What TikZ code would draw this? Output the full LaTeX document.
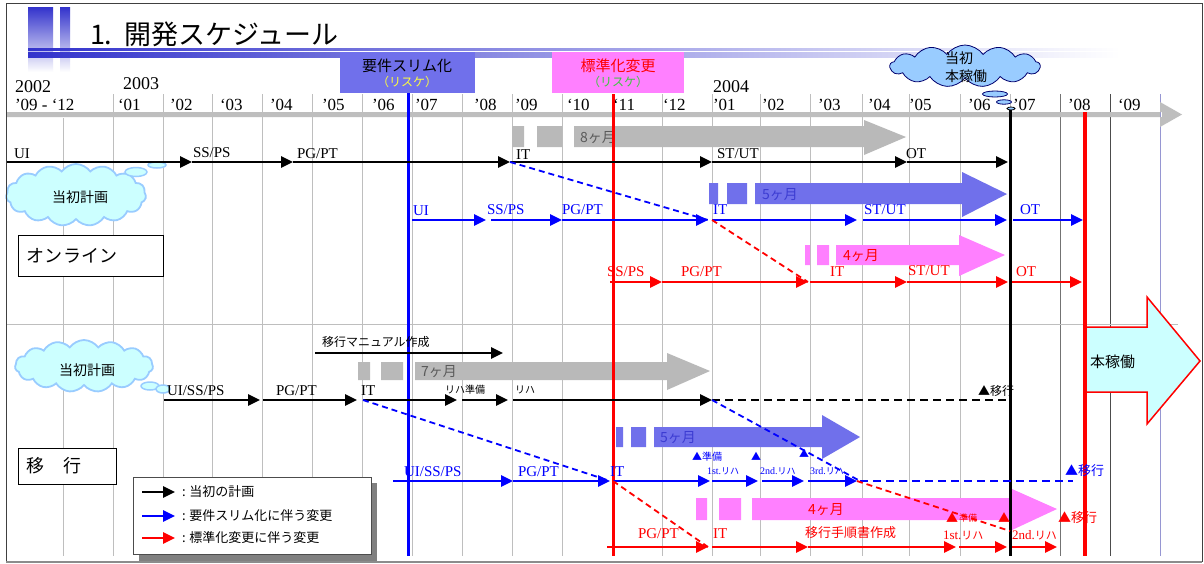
\documentclass[tikz,border=0pt]{standalone}
\usepackage{fontspec}
\setmainfont{Liberation Serif}
\newfontfamily\jp{Noto Sans CJK JP}
\usetikzlibrary{arrows.meta,shapes.symbols}
\definecolor{gridc}{RGB}{190,190,190}
\definecolor{lastgrid}{RGB}{150,150,210}
\definecolor{barc}{RGB}{190,190,190}
\definecolor{titleblue}{RGB}{51,51,204}
\definecolor{slimblue}{RGB}{112,112,235}
\definecolor{stdpink}{RGB}{255,128,255}
\definecolor{shadegray}{RGB}{185,185,185}
\definecolor{cloudfill}{RGB}{204,255,255}
\definecolor{cloudline}{RGB}{153,204,255}
\definecolor{skyfill}{RGB}{153,204,255}
\definecolor{navy}{RGB}{0,0,110}
\definecolor{pblue}{RGB}{0,0,255}
\definecolor{pred}{RGB}{255,0,0}
\definecolor{pgreen}{RGB}{60,200,60}
\definecolor{pyellow}{RGB}{255,255,60}
\definecolor{graytxt}{RGB}{90,90,90}
\definecolor{bluetxt}{RGB}{60,60,210}
\begin{document}
\begin{tikzpicture}[x=1pt,y=-1pt,
  every node/.style={inner sep=0pt,outer sep=0pt},
  arr/.style={line width=2.6pt,-{Triangle[length=12pt,width=11pt]}},
  blk/.style={arr,black},
  blu/.style={arr,pblue},
  rdd/.style={arr,pred},
  dsh/.style={line width=1.8pt,dash pattern=on 6pt off 4pt},
  thickdsh/.style={line width=2.6pt,dash pattern=on 8pt off 5pt},
  lab/.style={anchor=base west,font=\fontsize{15}{15}\selectfont},
  smlab/.style={anchor=base west,font=\fontsize{10}{10}\selectfont},
  mon/.style={anchor=base west,font=\fontsize{17}{17}\selectfont},
  yr/.style={anchor=base west,font=\fontsize{18}{18}\selectfont},
  jl/.style={anchor=base west,font=\jp\fontsize{#1}{#1}\selectfont},
  jl/.default=12,
  lblbox/.style={draw=black,line width=0.8pt,fill=white},
  cloudA/.style={cloud,cloud puffs=15,cloud puff arc=110,cloud ignores aspect,draw=cloudline,line width=1.8pt,fill=cloudfill},
  bubble/.style={draw=cloudline,line width=1.5pt,fill=cloudfill},
]
\useasboundingbox (0,0) rectangle (1204,563);
\fill[white] (0,0) rectangle (1204,563);

% ---------- title ----------
\shade[top color=titleblue,bottom color=white] (28,7) rectangle (53,72);
\shade[top color=titleblue,bottom color=white] (60,7) rectangle (70,72);
\shade[left color=titleblue,middle color=titleblue!75!white,right color=white] (28,48) rectangle (1120,50);
\shade[left color=titleblue,middle color=titleblue!75!white,right color=white] (28,52) rectangle (1120,57);
\node[anchor=west,font=\jp\fontsize{27}{27}\selectfont] (title) at (90,34) {1.\hspace{12pt}開発スケジュール};

% ---------- grid ----------
\foreach \gx in {113,163,212,262,312,362,412,462,512,562,612,662,712,760,810,862,909,960,1010}
  \draw[gridc,line width=1pt] (\gx,94) -- (\gx,556);
\draw[gridc,line width=1pt] (63,118) -- (63,556);
\draw[black!70,line width=1pt] (1110,94) -- (1110,556);
\draw[black!55,line width=1pt] (1060,94) -- (1060,556);
\draw[lastgrid,line width=1pt] (1160,94) -- (1160,556);
\draw[gridc,line width=1pt] (6,324) -- (1178,324);

% header
\node[yr] (y2002) at (15,92) {2002};
\node[yr] (y2003) at (123,89) {2003};
\node[yr] (y2004) at (713,92) {2004};
\foreach \mx/\mt in {15/{'09 - `12},118/{`01},170/{'02},220/{`03},270/{'04},322/{'05},372/{'06},415/{'07},474/{'08},515/{'09},567/{`10},613/{`11},663/{`12},713/{'01},762/{'02},818/{'03},868/{'04},909/{'05},968/{'06},1013/{'07},1068/{'08},1118/{`09}}
  \node[mon] (m\mx) at (\mx,110) {\mt};
\fill[barc] (6,112) rectangle (1162,117) (1160,102) -- (1182,114.5) -- (1160,127) -- cycle;

% ---------- shaded duration arrows ----------
\fill[shadegray] (512,126) rectangle (524,147) (537,126) rectangle (562,147)
  (574,126) -- (864,126) -- (864,120) -- (906,137) -- (864,155) -- (864,147) -- (574,147) -- cycle;
\node[jl=14,text=graytxt] (d8) at (580,142) {8ヶ月};
\fill[slimblue] (709,183) rectangle (718,204) (727,183) rectangle (747,204)
  (755,183) -- (962,183) -- (962,172) -- (1007,194) -- (962,217) -- (962,204) -- (755,204) -- cycle;
\node[jl=14,text=bluetxt] (d5a) at (762,199) {5ヶ月};
\fill[stdpink] (805,245) rectangle (810,265) (817,245) rectangle (829,265)
  (836,245) -- (959,245) -- (959,235) -- (1005,255) -- (959,276) -- (959,265) -- (836,265) -- cycle;
\node[jl=14,text=pred] (d4a) at (843,260) {4ヶ月};
\fill[shadegray] (358,362) rectangle (370,380) (381,362) rectangle (403,380)
  (415,362) -- (667,362) -- (667,353) -- (710,371) -- (667,390) -- (667,380) -- (415,380) -- cycle;
\node[jl=14,text=graytxt] (d7) at (421,376) {7ヶ月};
\fill[slimblue] (616,427) rectangle (623,447) (631,427) rectangle (646,447)
  (654,427) -- (822,427) -- (822,415) -- (860,437) -- (822,459) -- (822,447) -- (654,447) -- cycle;
\node[jl=14,text=bluetxt] (d5b) at (660,442) {5ヶ月};
\fill[stdpink] (696,498) rectangle (707,520) (719,498) rectangle (741,520)
  (752,498) -- (1012,498) -- (1012,489) -- (1057,509) -- (1012,530) -- (1012,520) -- (752,520) -- cycle;
\node[jl=14,text=pred] (d4b) at (808,514) {4ヶ月};

% ---------- big arrow ----------
\draw[pred,line width=1.5pt,fill=cloudfill] (1085,327) -- (1147,327) -- (1147,297) -- (1200,361) -- (1147,424) -- (1147,392) -- (1085,392) -- cycle;
\node[jl=15] (honka) at (1090,367) {本稼働};

% ---------- top boxes ----------
\fill[slimblue] (340,52) rectangle (475,93);
\node[font=\jp\fontsize{15}{15}\selectfont] (slim) at (407,66) {要件スリム化};
\node[font=\jp\fontsize{12}{12}\selectfont,text=pyellow] (slimr) at (407,82) {（リスケ）};
\fill[stdpink] (552,52) rectangle (684,93);
\node[font=\jp\fontsize{15}{15}\selectfont,text=pred] (std) at (618,66) {標準化変更};
\node[font=\jp\fontsize{12}{12}\selectfont,text=pgreen] (stdr) at (618,82) {（リスケ）};

% ---------- key vertical lines ----------
\draw[pblue,line width=3pt] (408,93) -- (408,556);
\draw[pred,line width=3pt] (613,94) -- (613,556);
\draw[black,line width=3pt] (1010,107) -- (1010,556);
\draw[pred,line width=4pt] (1085,112) -- (1085,556);

% ---------- top cloud ----------
\node[cloud,cloud puffs=13,cloud puff arc=110,cloud ignores aspect,draw=navy,fill=skyfill,line width=0.8pt,minimum width=150pt,minimum height=42pt] (clTop) at (965,66) {};
\node[anchor=north west,align=left,font=\jp\fontsize{14}{18}\selectfont] (clTopT) at (945,52) {当初\\本稼働};
\draw[navy,line width=0.8pt,fill=skyfill] (995,94) ellipse [x radius=12.5pt,y radius=3pt];
\draw[navy,line width=0.8pt,fill=skyfill] (1004,102) ellipse [x radius=7.5pt,y radius=2.2pt];
\draw[black,line width=0.8pt,fill=skyfill] (1011,108.5) ellipse [x radius=4pt,y radius=1.5pt];

% ---------- online section ----------
\node[cloudA,minimum width=140pt,minimum height=62pt] (cl1) at (76,195) {};
\node[font=\jp\fontsize{14}{14}\selectfont] (cl1t) at (80,197) {当初計画};
\draw[bubble] (136,172) ellipse [x radius=11pt,y radius=4.5pt];
\draw[bubble] (157,165) ellipse [x radius=9pt,y radius=3pt];
\node[lblbox,minimum width=145pt,minimum height=41pt,anchor=north west] (online) at (18,235) {};
\node[anchor=west,font=\jp\fontsize{18}{18}\selectfont] (onlineT) at (27,256) {オンライン};

% black row
\coordinate (ob0) at (6,162);   \coordinate (ob1) at (192,162);
\coordinate (ob2) at (293,162); \coordinate (ob3) at (510,162);
\coordinate (ob4) at (712,162); \coordinate (ob5) at (907,162);
\coordinate (ob6) at (1008,162);
\draw[blk] (ob0) -- (ob1); \draw[blk] (ob1) -- (ob2); \draw[blk] (ob2) -- (ob3);
\draw[blk] (ob3) -- (ob4); \draw[blk] (ob4) -- (ob5); \draw[blk] (ob5) -- (ob6);
\node[lab] (lUI) at (14,158) {UI};
\node[lab] (lSS) at (193,157) {SS/PS};
\node[lab] (lPG) at (297,158) {PG/PT};
\node[lab] (lIT) at (516,159) {IT};
\node[lab] (lST) at (717,158) {ST/UT};
\node[lab] (lOT) at (906,158) {OT};

% blue row
\coordinate (ou0) at (412,220);  \coordinate (ou1) at (486,220);
\coordinate (ou1b) at (491,220); \coordinate (ou2) at (562,220);
\coordinate (ou3) at (708,220);  \coordinate (ou3b) at (712,220);
\coordinate (ou4) at (857,220);  \coordinate (ou4b) at (863,220);
\coordinate (ou5) at (1007,220); \coordinate (ou5b) at (1013,220);
\coordinate (ou6) at (1083,220);
\draw[blu] (ou0) -- (ou1); \draw[blu] (ou1b) -- (ou2); \draw[blu] (ou2) -- (ou3);
\draw[blu] (ou3b) -- (ou4); \draw[blu] (ou4b) -- (ou5); \draw[blu] (ou5b) -- (ou6);
\begin{scope}[every node/.append style={text=pblue}]
\node[lab] (bUI) at (413,215) {UI};
\node[lab] (bSS) at (487,214) {SS/PS};
\node[lab] (bPG) at (562,214) {PG/PT};
\node[lab] (bIT) at (713,214) {IT};
\node[lab] (bST) at (864,214) {ST/UT};
\node[lab] (bOT) at (1020,214) {OT};
\end{scope}

% red row
\coordinate (or0) at (610,282);  \coordinate (or1) at (662,282);
\coordinate (or2) at (808,282);  \coordinate (or2b) at (810,282);
\coordinate (or3) at (907,282);  \coordinate (or4) at (1008,282);
\coordinate (or4b) at (1012,282); \coordinate (or5) at (1082,282);
\draw[rdd] (or0) -- (or1); \draw[rdd] (or1) -- (or2); \draw[rdd] (or2b) -- (or3);
\draw[rdd] (or3) -- (or4); \draw[rdd] (or4b) -- (or5);
\begin{scope}[every node/.append style={text=pred}]
\node[lab] (rSS) at (607,276) {SS/PS};
\node[lab] (rPG) at (681,276) {PG/PT};
\node[lab] (rIT) at (830,276) {IT};
\node[lab] (rST) at (908,275) {ST/UT};
\node[lab] (rOT) at (1016,276) {OT};
\end{scope}

\draw[dsh,pblue] (ob3) -- (ou3);
\draw[dsh,pred] (ou3b) -- (or2);

% ---------- migration section ----------
\node[cloudA,minimum width=138pt,minimum height=52pt] (cl2) at (84,366) {};
\node[font=\jp\fontsize{14}{14}\selectfont] (cl2t) at (87,370) {当初計画};
\draw[bubble] (150,386) ellipse [x radius=9pt,y radius=4pt];
\draw[bubble] (163,389) ellipse [x radius=7pt,y radius=4pt];
\node[lblbox,minimum width=98pt,minimum height=36pt,anchor=north west] (mig) at (18,448) {};
\node[anchor=west,font=\jp\fontsize{18}{18}\selectfont] (migT) at (27,466) {移　行};

% manual
\coordinate (mm0) at (315,353); \coordinate (mm1) at (503,353);
\draw[blk] (mm0) -- (mm1);
\node[jl=12] (manual) at (322,346) {移行マニュアル作成};

% black row
\coordinate (mb0) at (164,400);  \coordinate (mb1) at (260,400);
\coordinate (mb1b) at (263,400); \coordinate (mb2) at (357,400);
\coordinate (mb2b) at (363,400); \coordinate (mb3) at (457,400);
\coordinate (mb3b) at (462,400); \coordinate (mb4) at (508,400);
\coordinate (mb4b) at (513,400); \coordinate (mb5) at (712,400);
\coordinate (mbE) at (1010,400);
\draw[blk] (mb0) -- (mb1); \draw[blk] (mb1b) -- (mb2); \draw[blk] (mb2b) -- (mb3);
\draw[blk] (mb3b) -- (mb4); \draw[blk] (mb4b) -- (mb5);
\draw[thickdsh,black] (mb5) -- (mbE);
\node[lab] (kUI) at (167,395) {UI/SS/PS};
\node[lab] (kPG) at (276,395) {PG/PT};
\node[lab] (kIT) at (361,395) {IT};
\node[jl=10] (kRJ) at (445,393) {リハ準備};
\node[jl=10] (kR) at (515,393) {リハ};
\node[jl=12] (kMig) at (978,395) {▲移行};

% blue row
\coordinate (mu0) at (393,481);  \coordinate (mu1) at (513,481);
\coordinate (mu2) at (610,481);  \coordinate (mu2b) at (613,481);
\coordinate (mu3) at (710,481);  \coordinate (mu3b) at (712,481);
\coordinate (mu4) at (758,481);  \coordinate (mu4b) at (762,481);
\coordinate (mu5) at (804,481);  \coordinate (mu5b) at (808,481);
\coordinate (mu6) at (857,481);  \coordinate (mu6b) at (860,481);
\coordinate (muE) at (1073,481);
\draw[blu] (mu0) -- (mu1); \draw[blu] (mu1) -- (mu2); \draw[blu] (mu2b) -- (mu3);
\draw[blu] (mu3b) -- (mu4); \draw[blu] (mu4b) -- (mu5); \draw[blu] (mu5b) -- (mu6);
\draw[thickdsh,pblue] (mu6b) -- (muE);
\begin{scope}[every node/.append style={text=pblue}]
\node[lab] (cUI) at (404,476) {UI/SS/PS};
\node[lab] (cPG) at (518,476) {PG/PT};
\node[lab] (cIT) at (610,476) {IT};
\node[smlab] (c1st) at (707,474) {1st.{\jp\fontsize{9}{9}\selectfont リハ}};
\node[smlab] (c2nd) at (760,474) {2nd.{\jp\fontsize{9}{9}\selectfont リハ}};
\node[smlab] (c3rd) at (810,474) {3rd.{\jp\fontsize{9}{9}\selectfont リハ}};
\node[jl=13] (cMig) at (1065,475) {▲移行};
\node[jl=10] (cT1) at (692,460) {▲準備};
\node[jl=10] (cT2) at (751,460) {▲};
\node[jl=10] (cT3) at (799,457) {▲};
\end{scope}

% red row
\coordinate (mr0) at (607,547);  \coordinate (mr1) at (708,547);
\coordinate (mr1b) at (712,547); \coordinate (mr2) at (808,547);
\coordinate (mr3) at (956,547);  \coordinate (mr3b) at (959,547);
\coordinate (mr4) at (1007,547); \coordinate (mr4b) at (1012,547);
\coordinate (mr5) at (1057,547);
\draw[rdd] (mr0) -- (mr1); \draw[rdd] (mr1b) -- (mr2); \draw[rdd] (mr2) -- (mr3);
\draw[rdd] (mr3b) -- (mr4); \draw[rdd] (mr4b) -- (mr5);
\begin{scope}[every node/.append style={text=pred}]
\node[lab] (sPG) at (638,538) {PG/PT};
\node[lab] (sIT) at (713,538) {IT};
\node[jl=13] (sDoc) at (805,537) {移行手順書作成};
\node[anchor=base west,font=\fontsize{13}{13}\selectfont] (s1st) at (943,539) {1st.{\jp\fontsize{11}{11}\selectfont リハ}};
\node[anchor=base west,font=\fontsize{13}{13}\selectfont] (s2nd) at (1012,539) {2nd.{\jp\fontsize{11}{11}\selectfont リハ}};
\node[jl=12] (sT1) at (946,522) {▲};
\node[jl=9] (sT1t) at (959,521) {準備};
\node[jl=12] (sT2) at (998,522) {▲};
\node[jl=13] (sMig) at (1058,522) {▲移行};
\end{scope}

\coordinate (rdE) at (1010,531);
\draw[dsh,pblue] (mb2b) -- (mu2);
\draw[dsh,pblue] (mb5) -- (mu6b);
\draw[dsh,pred] (mu2b) -- (mr1);
\draw[dsh,pred] (mu6) -- (rdE);

% ---------- legend ----------
\fill[black!50] (139,483) rectangle (377,561);
\node[draw=black!70,line width=0.8pt,fill=white,minimum width=238pt,minimum height=77pt,anchor=north west] (legend) at (133,477) {};
\coordinate (lg1a) at (142,492); \coordinate (lg1b) at (175,492);
\coordinate (lg2a) at (142,516); \coordinate (lg2b) at (175,516);
\coordinate (lg3a) at (142,538); \coordinate (lg3b) at (175,538);
\draw[blk] (lg1a) -- (lg1b);
\draw[blu] (lg2a) -- (lg2b);
\draw[rdd] (lg3a) -- (lg3b);
\node[anchor=west,font=\jp\fontsize{13}{13}\selectfont] (lgt1) at (182,492) {: 当初の計画};
\node[anchor=west,font=\jp\fontsize{13}{13}\selectfont] (lgt2) at (182,516) {: 要件スリム化に伴う変更};
\node[anchor=west,font=\jp\fontsize{13}{13}\selectfont] (lgt3) at (182,538) {: 標準化変更に伴う変更};

% ---------- frame ----------
\draw[black!75,line width=0.8pt] (6,3) rectangle (1202,561);
\draw[black!45,line width=2pt] (6,561.5) -- (1202,561.5);
\end{tikzpicture}
\end{document}
